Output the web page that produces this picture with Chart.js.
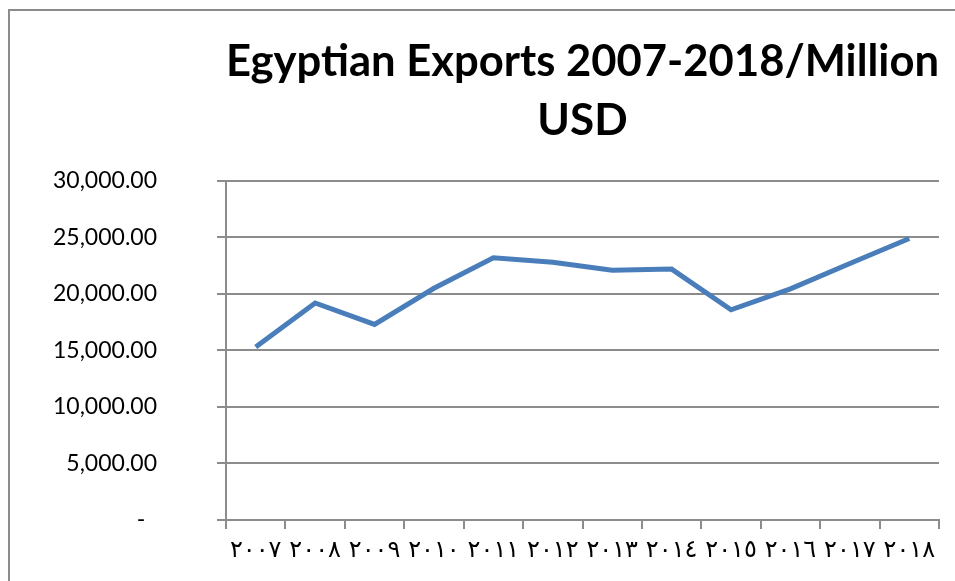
<!DOCTYPE html>
<html>
<head>
<meta charset="utf-8">
<script src="https://cdn.jsdelivr.net/npm/chart.js@4"></script>
<style>
  html, body { margin: 0; padding: 0; background: #fff; }
  #wrap { position: relative; width: 955px; height: 581px; overflow: hidden; }
  #frame { position: absolute; left: 8px; top: 9px; width: 1000px; height: 700px;
           border-left: 2px solid #8c8c8c; border-top: 2px solid #8c8c8c; }
  canvas { position: absolute; left: 0; top: 0; }
</style>
</head>
<body>
<div id="wrap">
  <div id="frame"></div>
  <canvas id="chartExports" width="955" height="581"></canvas>
</div>
<script>
const years = ["٢٠٠٧", "٢٠٠٨", "٢٠٠٩", "٢٠١٠", "٢٠١١", "٢٠١٢", "٢٠١٣", "٢٠١٤", "٢٠١٥", "٢٠١٦", "٢٠١٧", "٢٠١٨"];
const exportsUSD = [15300, 19200, 17300, 20500, 23200, 22800, 22100, 22200, 18600, 20450, 22700, 24900];
const yTicks = [0, 5000, 10000, 15000, 20000, 25000, 30000];

const gridGrey = "#8c8c8c";

new Chart(document.querySelector("#chartExports"), {
  type: "line",
  data: {
    labels: years,
    datasets: [
      {
        label: "Exports",
        data: exportsUSD,
        fill: false,
        borderColor: "rgb(74, 126, 187)",
        backgroundColor: "rgb(74, 126, 187)",
        borderWidth: 5,
        pointRadius: 0,
        tension: 0,
        borderCapStyle: "butt",
        borderJoinStyle: "miter",
      },
    ],
  },
  options: {
    responsive: false,
    maintainAspectRatio: false,
    animation: false,
    devicePixelRatio: 1,
    layout: { padding: { left: 0, right: 16, top: 0, bottom: 0 } },
    scales: {
      x: {
        offset: true,
        grid: {
          offset: true,
          drawOnChartArea: false,
          color: gridGrey,
          lineWidth: 2,
          tickLength: 9,
        },
        border: { color: gridGrey, width: 2 },
        ticks: {
          color: "#000",
          padding: 7,
          maxRotation: 0,
          autoSkip: false,
          font: { family: "'DejaVu Sans', Lato, sans-serif", size: 24 },
        },
        afterFit: (scale) => { scale.height = 61; },
      },
      y: {
        min: 0,
        max: 30000,
        afterBuildTicks: (scale) => { scale.ticks = yTicks.map((v) => ({ value: v })); },
        grid: { color: gridGrey, lineWidth: 2, tickLength: 9 },
        border: { color: gridGrey, width: 2 },
        ticks: {
          color: "#000",
          padding: 60,
          font: { family: "Lato, sans-serif", size: 23 },
          callback: (v) => (v === 0 ? "-  " : v.toLocaleString("en-US", { minimumFractionDigits: 2, maximumFractionDigits: 2 })),
        },
        // the big label gap would otherwise leak into the top/bottom padding
        afterFit: (scale) => {
          scale.width = 226;
          scale.paddingTop = 14;
          scale.paddingBottom = 14;
        },
      },
    },
    plugins: {
      legend: { display: false },
      tooltip: { enabled: false },
      title: {
        display: true,
        fullSize: false,
        text: ["Egyptian Exports 2007-2018/Million", "USD"],
        color: "#000",
        font: { family: "Lato, sans-serif", size: 44, weight: "bold", lineHeight: 1.34 },
        padding: { top: 32, bottom: 31 },
      },
    },
  },
});
</script>
</body>
</html>
